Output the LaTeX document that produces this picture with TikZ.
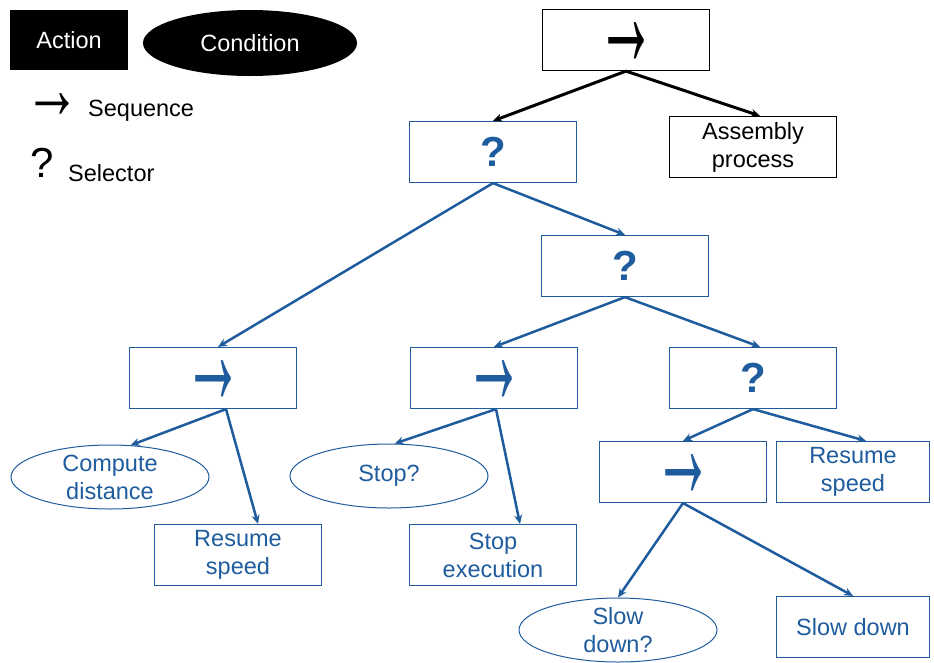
\documentclass[tikz,border=0pt]{standalone}
\usepackage{fontspec}
\usepackage{graphicx}
\setmainfont{Liberation Sans}
\usetikzlibrary{shapes.geometric,arrows.meta}
\definecolor{btblue}{RGB}{31,92,158}
\newcommand{\seqarrow}{\raisebox{-26pt}[0pt][0pt]{\scalebox{1.2}[3.1]{→}}}
\newcommand{\legarrow}{\raisebox{-15pt}[0pt][0pt]{\scalebox{1.4}[2.2]{→}}}
\begin{document}
\begin{tikzpicture}[x=1pt,y=-1pt]
			\tikzstyle{every node}=[inner sep=0pt,font=\fontsize{23.5}{28}\selectfont]
			\tikzstyle{bbox}=[draw=btblue,line width=1.2pt,minimum width=167pt,minimum height=61pt,text=btblue,align=center]
			\tikzstyle{kbox}=[draw=black,line width=1.2pt,minimum width=167pt,minimum height=61pt,align=center]
			\tikzstyle{cond}=[ellipse,draw=btblue,line width=1pt,minimum width=198pt,minimum height=64pt,text=btblue,align=center]
			\tikzstyle{bline}=[draw=btblue,line width=2.5pt,-{Stealth[length=9pt,width=8pt]}]
			\tikzstyle{kline}=[draw=black,line width=3pt,-{Stealth[length=9pt,width=8pt]}]
			\tikzstyle{seqsym}=[font=\fontsize{50}{50}\selectfont\bfseries]
			\tikzstyle{selsym}=[font=\fontsize{42}{42}\selectfont\bfseries]
			\useasboundingbox (0,0) rectangle (934,662);
			% legend
			\node [fill=black,text=white,minimum width=118pt,minimum height=60pt] (actLeg) at (69,40) {Action};
			\node [ellipse,fill=black,text=white,minimum width=214pt,minimum height=66pt] (condLeg) at (250,43) {Condition};
			\node [font=\fontsize{40}{40}\selectfont] (seqLeg) at (52,103) {\legarrow};
			\node [anchor=west] (seqTxt) at (88,111) {Sequence};
			\node [font=\fontsize{42}{42}\selectfont] (selLeg) at (42,163) {?};
			\node [anchor=west] (selTxt) at (68,173) {Selector};
			% tree
			\node [kbox,seqsym] (root) at (626,40) {\seqarrow};
			\node [bbox,selsym] (selA) at (493,152) {?};
			\node [kbox] (asm) at (753,147) {Assembly\\process};
			\node [bbox,selsym] (selB) at (625,266) {?};
			\node [bbox,seqsym] (seqA) at (213,378) {\seqarrow};
			\node [bbox,seqsym] (seqB) at (494,378) {\seqarrow};
			\node [bbox,selsym] (selC) at (753,378) {?};
			\node [cond] (compDist) at (110,477) {Compute\\distance};
			\node [bbox] (resA) at (238,555) {Resume\\speed};
			\node [cond] (stopQ) at (389,476) {Stop?};
			\node [bbox] (stopEx) at (493,555) {Stop\\execution};
			\node [bbox,seqsym] (seqC) at (683,472) {\seqarrow};
			\node [bbox,minimum width=153pt] (resB) at (853,472) {Resume\\speed};
			\node [cond] (slowQ) at (618,630) {Slow\\down?};
			\node [bbox,minimum width=153pt] (slowDn) at (853,627) {Slow down};
			% connectors
			\draw [kline] (root.south) -- (selA.north);
			\draw [kline] (root.south) -- ([xshift=7pt]asm.north);
			\draw [bline] (selA.south) -- ([xshift=5pt]seqA.north);
			\draw [bline] (selA.south) -- (selB.north);
			\draw [bline] (selB.south) -- (seqB.north);
			\draw [bline] (selB.south) -- ([xshift=7pt]selC.north);
			\draw [bline] ([xshift=13pt]seqA.south) -- (compDist.57);
			\draw [bline] ([xshift=13pt]seqA.south) -- ([xshift=20pt]resA.north);
			\draw [bline] ([xshift=2pt]seqB.south) -- (stopQ.80);
			\draw [bline] ([xshift=2pt]seqB.south) -- ([xshift=27pt]stopEx.north);
			\draw [bline] (selC.south) -- (seqC.north);
			\draw [bline] (selC.south) -- ([xshift=13pt]resB.north);
			\draw [bline] (seqC.south) -- (slowQ.north);
			\draw [bline] (seqC.south) -- (slowDn.north);
		\end{tikzpicture}
\end{document}
